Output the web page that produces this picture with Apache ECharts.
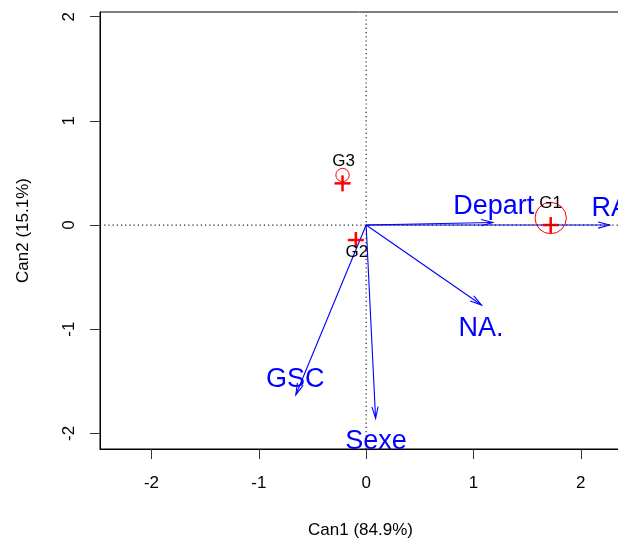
<!DOCTYPE html>
<html><head><meta charset="utf-8">
<script src="https://cdn.jsdelivr.net/npm/echarts@6/dist/echarts.min.js"></script>
<style>html,body{margin:0;padding:0;background:#fff}#c{width:618px;height:540px}</style>
</head><body><div id="c"></div>
<script>
const xTicks = [-2, -1, 0, 1, 2];
const yTicks = [-2, -1, 0, 1, 2];
const groupNames = ['G1', 'G2', 'G3'];
const meanX = [1.72, -0.096, -0.22];
const meanY = [0.0, -0.144, 0.40];
const circleX = [1.72, -0.22];
const circleY = [0.067, 0.48];
const circleR = [0.146, 0.062];
const groupLabelX = [1.72, -0.086, -0.21];
const groupLabelY = [0.21, -0.264, 0.61];
const vectorNames = ['RA', 'Depart', 'NA.', 'GSC', 'Sexe'];
const vectorX = [2.27, 1.18, 1.075, -0.655, 0.088];
const vectorY = [0.0, 0.025, -0.768, -1.63, -1.855];
const vectorLabelX = [2.275, 1.19, 1.07, -0.66, 0.093];
const vectorLabelY = [0.16, 0.18, -0.995, -1.48, -2.08];
const xMin = -2.48, xMax = 2.375, yMin = -2.15, yMax = 2.045;
const FONT = 'Liberation Sans';

const chart = echarts.init(document.getElementById('c'), null, {renderer: 'canvas'});

function textItem(params, api, color, size) {
  const p = api.coord([api.value(0), api.value(1)]);
  return {
    type: 'text',
    style: {
      x: p[0], y: p[1], text: api.value(2),
      fill: color, font: size + 'px "' + FONT + '"',
      align: 'center', verticalAlign: 'middle'
    }
  };
}

const option = {
  animation: false,
  backgroundColor: '#fff',
  grid: {left: 100, top: 12, width: 521, height: 437, show: true, borderColor: '#000', borderWidth: 1,
         containLabel: false, outerBoundsMode: 'none'},
  xAxis: {
    type: 'value', min: xMin, max: xMax,
    name: 'Can1 (84.9%)', nameLocation: 'middle', nameGap: 73,
    nameTextStyle: {fontSize: 17, color: '#000', fontFamily: FONT},
    axisLine: {show: true, onZero: false, lineStyle: {color: '#000', width: 1}},
    axisTick: {show: true, inside: false, length: 10, customValues: xTicks, lineStyle: {color: '#333', width: 1}},
    axisLabel: {show: true, customValues: xTicks, fontSize: 17, color: '#000', fontFamily: FONT, margin: 26},
    splitLine: {show: false}
  },
  yAxis: {
    type: 'value', min: yMin, max: yMax,
    name: 'Can2 (15.1%)', nameLocation: 'middle', nameGap: 68,
    nameTextStyle: {fontSize: 17, color: '#000', fontFamily: FONT},
    axisLine: {show: true, onZero: false, lineStyle: {color: '#000', width: 1}},
    axisTick: {show: true, inside: false, length: 10, customValues: yTicks, lineStyle: {color: '#333', width: 1}},
    axisLabel: {show: true, customValues: yTicks, fontSize: 17, color: '#000', fontFamily: FONT, margin: 22, rotate: 90},
    splitLine: {show: false}
  },
  series: [
    {
      type: 'line', data: [[xMin, 0], [xMax, 0]], symbol: 'none', silent: true,
      lineStyle: {color: '#222', width: 1.2, type: [1.2, 3]}
    },
    {
      type: 'line', data: [[0, yMin], [0, yMax]], symbol: 'none', silent: true,
      lineStyle: {color: '#222', width: 1.2, type: [1.2, 3]}
    },
    {
      type: 'custom', silent: true,
      data: vectorX.map((x, i) => [x, vectorY[i]]),
      renderItem: function (params, api) {
        const o = api.coord([0, 0]);
        const t = api.coord([api.value(0), api.value(1)]);
        const ang = Math.atan2(t[1] - o[1], t[0] - o[0]);
        const L = 12, a = 15 * Math.PI / 180;
        const p1 = [t[0] - L * Math.cos(ang - a), t[1] - L * Math.sin(ang - a)];
        const p2 = [t[0] - L * Math.cos(ang + a), t[1] - L * Math.sin(ang + a)];
        const st = {stroke: '#0000FF', lineWidth: 1.1, fill: null};
        return {
          type: 'group', children: [
            {type: 'line', shape: {x1: o[0], y1: o[1], x2: t[0], y2: t[1]}, style: st},
            {type: 'polyline', shape: {points: [p1, t, p2]}, style: st}
          ]
        };
      }
    },
    {
      type: 'custom', silent: true,
      data: circleX.map((x, i) => [x, circleY[i], circleR[i]]),
      renderItem: function (params, api) {
        const c = api.coord([api.value(0), api.value(1)]);
        const r = api.size([api.value(2), 0])[0];
        return {type: 'circle', shape: {cx: c[0], cy: c[1], r: r}, style: {stroke: '#FF0000', lineWidth: 1, fill: null}};
      }
    },
    {
      type: 'custom', silent: true,
      data: meanX.map((x, i) => [x, meanY[i]]),
      renderItem: function (params, api) {
        const c = api.coord([api.value(0), api.value(1)]);
        const h = 8;
        const st = {stroke: '#FF0000', lineWidth: 2.5};
        return {
          type: 'group', children: [
            {type: 'line', shape: {x1: c[0] - h, y1: c[1], x2: c[0] + h, y2: c[1]}, style: st},
            {type: 'line', shape: {x1: c[0], y1: c[1] - h, x2: c[0], y2: c[1] + h}, style: st}
          ]
        };
      }
    },
    {
      type: 'custom', silent: true,
      data: groupNames.map((n, i) => [groupLabelX[i], groupLabelY[i], n]),
      dimensions: ['x', 'y', {name: 'label', type: 'ordinal'}],
      renderItem: function (params, api) { return textItem(params, api, '#000', 17); }
    },
    {
      type: 'custom', silent: true,
      data: vectorNames.map((n, i) => [vectorLabelX[i], vectorLabelY[i], n]),
      dimensions: ['x', 'y', {name: 'label', type: 'ordinal'}],
      renderItem: function (params, api) { return textItem(params, api, '#0000FF', 27); }
    }
  ]
};
chart.setOption(option);
</script>
</body></html>
